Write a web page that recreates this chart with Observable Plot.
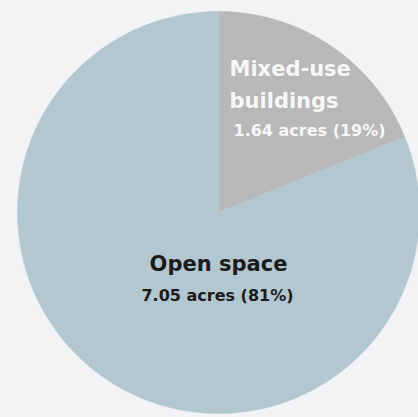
<!DOCTYPE html>
<html><head><meta charset="utf-8">
<script src="https://cdn.jsdelivr.net/npm/d3@7"></script>
<script src="https://cdn.jsdelivr.net/npm/@observablehq/plot@0.6"></script>
<style>html,body{margin:0;padding:0;background:#f2f3f5;overflow:hidden}</style>
</head><body><div id="chart"></div>
<script>
const categories = ["Mixed-use buildings", "Open space"];
const acres = [1.64, 7.05];
const percents = [19, 81];
const colors = ["#b8b8b8", "#b3c7d1"];

const arcs = d3.pie().sort(null).value(d => d)(acres);
const pts = [];
arcs.forEach((a, i) => {
  const n = Math.max(2, Math.ceil((a.endAngle - a.startAngle) / (Math.PI / 360)));
  pts.push({cat: categories[i], x: 0, y: 0});
  for (let k = 0; k <= n; k++) {
    const t = a.startAngle + (a.endAngle - a.startAngle) * k / n;
    pts.push({cat: categories[i], x: Math.sin(t), y: Math.cos(t)});
  }
  pts.push({cat: categories[i], x: 0, y: 0});
});
const fmt = i => `${acres[i].toFixed(2)} acres (${percents[i]}%)`;
const font = "'DejaVu Sans', sans-serif";

const chart = Plot.plot({
  width: 418, height: 417, margin: 0,
  style: {background: "#f2f3f5", fontFamily: font},
  x: {axis: null, domain: [-218/201, 200/201]},
  y: {axis: null, domain: [-205/201, 212/201]},
  color: {domain: categories, range: colors},
  marks: [
    Plot.line(pts, {x: "x", y: "y", z: "cat", fill: "cat", stroke: "cat", strokeWidth: 0.5, curve: "linear"}),
    Plot.text([categories[1]], {frameAnchor: "top-left", dx: 218, dy: 270, textAnchor: "middle", lineAnchor: "bottom", fontSize: 21, fontWeight: "bold", fill: "#1b1b1b"}),
    Plot.text([fmt(1)], {frameAnchor: "top-left", dx: 217, dy: 300, textAnchor: "middle", lineAnchor: "bottom", fontSize: 16, fontWeight: "bold", fill: "#1b1b1b"}),
    Plot.text([categories[0].replace(" ", "\n")], {frameAnchor: "top-left", dx: 229, dy: 107, textAnchor: "start", lineAnchor: "bottom", lineHeight: 1.5, fontSize: 21, fontWeight: "bold", fill: "#f7f7f7"}),
    Plot.text([fmt(0)], {frameAnchor: "top-left", dx: 233, dy: 135, textAnchor: "start", lineAnchor: "bottom", fontSize: 16, fontWeight: "bold", fill: "#f7f7f7"})
  ]
});
document.getElementById("chart").appendChild(chart);
</script></body></html>
